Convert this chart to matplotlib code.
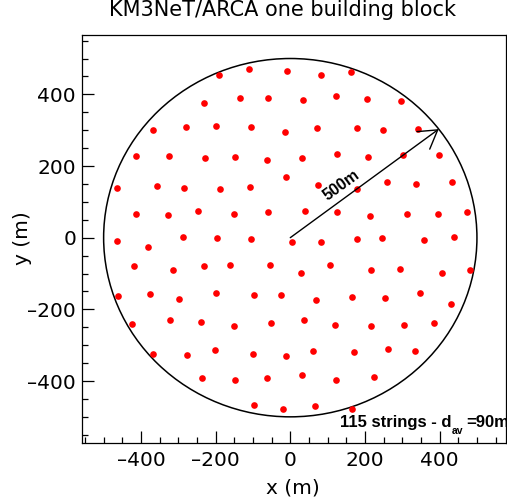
import numpy as np
import matplotlib
matplotlib.use('Agg')
import matplotlib.pyplot as plt
from matplotlib.patches import Circle
from matplotlib.ticker import MultipleLocator, FuncFormatter

plt.rcParams['font.family'] = ['DejaVu Sans']

# string positions (m)
x_str = [-192, -110, -10, -231, -136, -59, -369, -279, -199, -105, -14,
         -413, -325, -228, -149, -63, -11, -465, -356, -285, -189, -109,
         -413, -327, -248, -152, -59, -465, -288, -196, -105,
         81, 163, 35, 123, 205, 297, 72, 178, 248, 341, 32, 124, 207, 303, 398,
         75, 180, 259, 337, 434, 39, 124, 213, 312, 396, 473, 83, 178, 246, 359, 438,
         4,
         -382, -419, -313, -232, -162, -54, -462, -375, -298, -198, -98, -25,
         -423, -322, -239, -152, -51, -367, -278, -203, -99, -12, -237, -149, -62,
         -96, -19,
         29, 106, 216, 295, 406, 481, 69, 164, 254, 347, 431, 36, 120, 216, 304, 386,
         62, 171, 263, 334, 32, 122, 224, 67, 165]
y_str = [454, 470, 465, 377, 391, 391, 300, 309, 313, 308, 294,
         227, 227, 222, 224, 217, 169, 139, 143, 138, 135, 141,
         65, 63, 74, 65, 71, -8, 1, -1, -4,
         454, 462, 383, 395, 388, 382, 306, 305, 300, 303, 222, 233, 224, 230, 232,
         148, 137, 155, 150, 155, 75, 73, 61, 67, 65, 71, -13, -4, -2, -7, 1,
         -13,
         -25, -79, -90, -79, -75, -76, -162, -158, -172, -155, -160, -161,
         -242, -231, -236, -246, -238, -325, -327, -314, -325, -330, -391, -398, -391,
         -468, -477,
         -99, -77, -89, -87, -99, -91, -173, -166, -168, -155, -186, -231, -243, -246, -245, -237,
         -317, -320, -312, -317, -384, -398, -389, -470, -478]

radius = 500
arrow_angle = 37.3  # degrees
d_av = 90

fig = plt.figure(figsize=(5.07, 5.01), dpi=100)
ax = fig.add_axes([0.1611, 0.1152, 0.8369, 0.8140])

ax.add_patch(Circle((0, 0), radius, fill=False, color='black', lw=1.1))
ax.plot(x_str, y_str, 'o', color='red', ms=4.8, mec='none')

tip = (radius * np.cos(np.radians(arrow_angle)), radius * np.sin(np.radians(arrow_angle)))
ax.annotate('', xy=tip, xytext=(0, 0),
            arrowprops=dict(arrowstyle='->,head_length=0.64,head_width=0.39',
                            color='black', lw=1, shrinkA=0, shrinkB=0, mutation_scale=20))
ax.text(136, 147, f'{radius}m', rotation=36.2, ha='center', va='center',
        fontsize=11.5, fontweight='bold', family='Liberation Sans')

ax.set_xlim(-558.8, 577.8)
ax.set_ylim(-573.8, 564.3)

fmt = FuncFormatter(lambda v, p: f'{v:.0f}'.replace('-', '\u2013'))
for axis in (ax.xaxis, ax.yaxis):
    axis.set_major_locator(MultipleLocator(200))
    axis.set_minor_locator(MultipleLocator(50))
    axis.set_major_formatter(fmt)
ax.tick_params(which='both', direction='in', color='black', width=0.9)
ax.tick_params(which='major', length=8.9, labelsize=14.5)
ax.tick_params(which='minor', length=4.6)
ax.tick_params(axis='x', pad=5.5)
ax.tick_params(axis='y', pad=4)
for s in ax.spines.values():
    s.set_linewidth(0.9)

ax.set_xlabel('x (m)', fontsize=14.5, va='center')
ax.xaxis.set_label_coords(0.498, -0.1096)
ax.set_ylabel('y (m)', fontsize=14.5, va='center')
ax.yaxis.set_label_coords(-0.1383, 0.5034)

ax.set_title('KM3NeT/ARCA one building block', fontsize=15, x=0.4744, y=1.0282, va='baseline')

# "115 strings - d_av=90m", subscript placed by hand like ROOT's TLatex
lab = dict(fontweight='bold', family='Liberation Sans', va='baseline', clip_on=False)
t1 = ax.text(133, -529, f'{len(x_str)} strings - d', fontsize=12, **lab)
fig.canvas.draw()
r = fig.canvas.get_renderer()
w1 = t1.get_window_extent(r).width * 72 / fig.dpi
t2 = ax.annotate('av', xy=(133, -529), xytext=(w1 + 0.4, -5), textcoords='offset points',
                 fontsize=7.5, **lab)
fig.canvas.draw()
w2 = t2.get_window_extent(r).width * 72 / fig.dpi
ax.annotate(f'={d_av}m', xy=(133, -529), xytext=(w1 + w2 + 2.2, 0), textcoords='offset points',
            fontsize=12, **lab)

fig.savefig('out.png', dpi=100)
